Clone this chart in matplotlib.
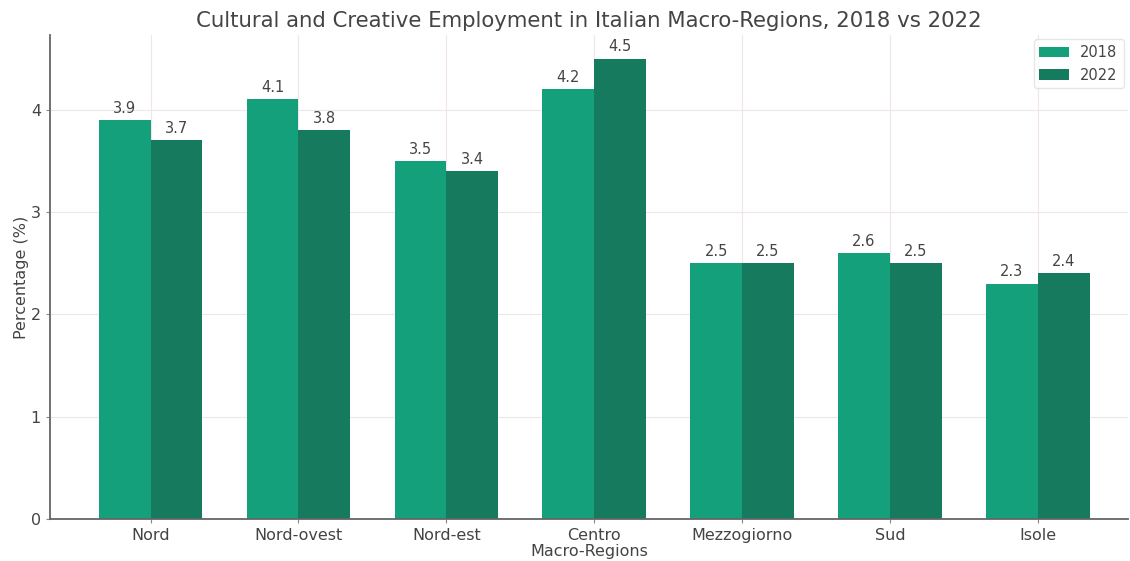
import matplotlib
matplotlib.use("Agg")
import matplotlib.pyplot as plt
import numpy as np

regions = ["Nord", "Nord-ovest", "Nord-est", "Centro", "Mezzogiorno", "Sud", "Isole"]
values_2018 = [3.9, 4.1, 3.5, 4.2, 2.5, 2.6, 2.3]
values_2022 = [3.7, 3.8, 3.4, 4.5, 2.5, 2.5, 2.4]
yticks = [0, 1, 2, 3, 4]

c2018 = "#15a07c"
c2022 = "#167a5e"

fig = plt.figure(figsize=(11.3, 5.61), dpi=100)
ax = fig.add_axes([50/1130, 42/561, 1078/1130, 484/561])

x = np.arange(len(regions))
w = 0.35
b1 = ax.bar(x - w/2, values_2018, w, color=c2018, label="2018", zorder=2)
b2 = ax.bar(x + w/2, values_2022, w, color=c2022, label="2022", zorder=2)

for bars in (b1, b2):
    for r in bars:
        ax.annotate(f"{r.get_height():.1f}", (r.get_x() + r.get_width()/2, r.get_height()),
                    xytext=(0, 3), textcoords="offset points", ha="center", va="bottom",
                    fontsize=10.5, color="#444444")

ax.set_xlim(-0.68, 6.61)
ax.set_ylim(0, 4.73)
ax.set_xticks(x)
ax.set_xticklabels(regions, fontsize=11.5, color="#444444")
ax.set_yticks(yticks)
ax.tick_params(axis="y", labelsize=11.5, colors="#444444")
ax.tick_params(axis="both", length=3, color="#888888")
ax.set_xlabel("Macro-Regions", fontsize=11.5, color="#444444", labelpad=1)
ax.set_ylabel("Percentage (%)", fontsize=11.5, color="#444444", labelpad=1)
ax.set_title("Cultural and Creative Employment in Italian Macro-Regions, 2018 vs 2022",
             fontsize=15.3, color="#444444", pad=6)
ax.grid(True, color="#f0e6ea", linewidth=0.8, zorder=0)
ax.set_axisbelow(True)
for s in ("top", "right"):
    ax.spines[s].set_visible(False)
for s in ("left", "bottom"):
    ax.spines[s].set_color("#666666")
    ax.spines[s].set_linewidth(1.3)
leg = ax.legend(loc="upper right", fontsize=10.5, frameon=True, edgecolor="#e0e0e0",
                borderaxespad=0.3)
for t in leg.get_texts():
    t.set_color("#444444")

fig.savefig("out.png", dpi=100)
